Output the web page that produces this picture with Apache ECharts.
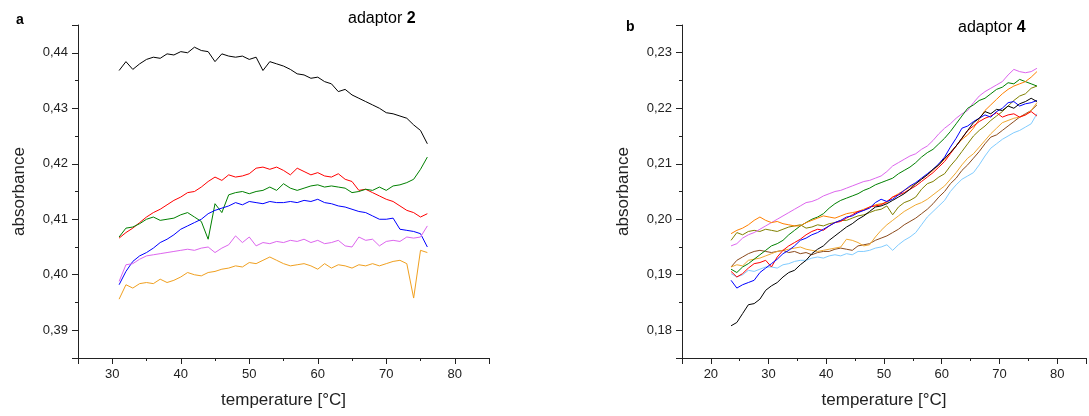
<!DOCTYPE html>
<html lang="en">
<head>
<meta charset="UTF-8" />
<title>adaptor absorbance</title>
<script src="https://cdn.jsdelivr.net/npm/echarts@6/dist/echarts.min.js"></script>
</head>
<body style="margin:0">
<div id="container" style="width:1089px;height:416px"></div>
<script>
// panel a: temperature grid and absorbance traces (adaptor 2)
var tempA = [31,32,33,34,35,36,37,38,39,40,41,42,43,44,45,46,47,48,49,50,51,52,53,54,55,56,57,58,59,60,61,62,63,64,65,66,67,68,69,70,71,72,73,74,75,76]
var a2Black = [0.4368,0.4384,0.4370,0.4380,0.4388,0.4392,0.4390,0.4398,0.4396,0.4402,0.4400,0.4410,0.4404,0.4402,0.4384,0.4398,0.4394,0.4392,0.4394,0.4388,0.4392,0.4368,0.4384,0.4380,0.4376,0.4370,0.4362,0.4360,0.4354,0.4356,0.4348,0.4344,0.4330,0.4334,0.4324,0.4318,0.4312,0.4306,0.4300,0.4292,0.4290,0.4286,0.4282,0.4270,0.4260,0.4236]
var a2Red = [0.4066,0.4076,0.4084,0.4094,0.4104,0.4112,0.4118,0.4126,0.4134,0.4140,0.4148,0.4150,0.4158,0.4168,0.4176,0.4170,0.4180,0.4176,0.4178,0.4182,0.4192,0.4194,0.4190,0.4194,0.4188,0.4180,0.4192,0.4186,0.4180,0.4184,0.4178,0.4176,0.4182,0.4172,0.4168,0.4152,0.4154,0.4148,0.4142,0.4136,0.4132,0.4124,0.4116,0.4112,0.4104,0.4110]
var a2Green = [0.4068,0.4084,0.4086,0.4092,0.4100,0.4104,0.4098,0.4100,0.4102,0.4108,0.4112,0.4104,0.4096,0.4064,0.4128,0.4112,0.4144,0.4148,0.4150,0.4146,0.4150,0.4152,0.4158,0.4152,0.4164,0.4156,0.4152,0.4156,0.4160,0.4162,0.4158,0.4160,0.4158,0.4156,0.4148,0.4150,0.4154,0.4152,0.4158,0.4152,0.4160,0.4162,0.4166,0.4172,0.4190,0.4212]
var a2Blue = [0.3982,0.4006,0.4024,0.4034,0.4040,0.4048,0.4058,0.4064,0.4072,0.4082,0.4088,0.4094,0.4100,0.4110,0.4116,0.4120,0.4124,0.4130,0.4126,0.4132,0.4130,0.4128,0.4132,0.4130,0.4130,0.4132,0.4130,0.4134,0.4132,0.4136,0.4130,0.4128,0.4124,0.4122,0.4118,0.4114,0.4112,0.4106,0.4100,0.4100,0.4102,0.4082,0.4080,0.4078,0.4074,0.4050]
var a2Violet = [0.3988,0.4018,0.4020,0.4028,0.4034,0.4036,0.4038,0.4040,0.4042,0.4044,0.4046,0.4044,0.4048,0.4050,0.4040,0.4048,0.4054,0.4070,0.4058,0.4068,0.4052,0.4058,0.4056,0.4060,0.4058,0.4062,0.4060,0.4064,0.4058,0.4062,0.4056,0.4058,0.4062,0.4052,0.4050,0.4068,0.4062,0.4064,0.4052,0.4060,0.4062,0.4060,0.4068,0.4066,0.4068,0.4088]
var a2Orange = [0.3956,0.3982,0.3976,0.3984,0.3986,0.3984,0.3992,0.3986,0.3990,0.3996,0.4004,0.4000,0.3998,0.4004,0.4006,0.4010,0.4012,0.4016,0.4014,0.4022,0.4020,0.4026,0.4032,0.4026,0.4020,0.4016,0.4018,0.4020,0.4016,0.4010,0.4020,0.4012,0.4018,0.4016,0.4012,0.4018,0.4016,0.4020,0.4016,0.4020,0.4024,0.4026,0.4020,0.3958,0.4044,0.4040]

// panel b: adaptor 4
var tempB = [23.5,24.5,25.5,26.5,27.5,28.5,29.5,30.5,31.5,32.5,33.5,34.5,35.5,36.5,37.5,38.5,39.5,40.5,41.5,42.5,43.5,44.5,45.5,46.5,47.5,48.5,49.5,50.5,51.5,52.5,53.5,54.5,55.5,56.5,57.5,58.5,59.5,60.5,61.5,62.5,63.5,64.5,65.5,66.5,67.5,68.5,69.5,70.5,71.5,72.5,73.5,74.5,75.5,76.5]
var a4Black = [0.1808,0.1814,0.1830,0.1846,0.1848,0.1856,0.1872,0.1880,0.1886,0.1896,0.1904,0.1908,0.1918,0.1926,0.1938,0.1946,0.1952,0.1962,0.1970,0.1978,0.1986,0.1992,0.2000,0.2006,0.2014,0.2022,0.2024,0.2028,0.2034,0.2040,0.2046,0.2054,0.2064,0.2072,0.2080,0.2090,0.2098,0.2110,0.2120,0.2132,0.2146,0.2160,0.2174,0.2182,0.2194,0.2190,0.2198,0.2196,0.2204,0.2200,0.2208,0.2212,0.2218,0.2212]
var a4Blue = [0.1890,0.1876,0.1882,0.1886,0.1890,0.1904,0.1912,0.1920,0.1928,0.1938,0.1944,0.1952,0.1962,0.1966,0.1972,0.1976,0.1982,0.1988,0.1994,0.1998,0.2004,0.2006,0.2012,0.2016,0.2020,0.2030,0.2036,0.2032,0.2036,0.2044,0.2052,0.2060,0.2066,0.2074,0.2082,0.2090,0.2100,0.2112,0.2130,0.2146,0.2164,0.2168,0.2176,0.2182,0.2188,0.2184,0.2194,0.2200,0.2210,0.2212,0.2204,0.2208,0.2210,0.2214]
var a4Red = [0.1906,0.1896,0.1902,0.1912,0.1920,0.1922,0.1926,0.1914,0.1932,0.1944,0.1952,0.1958,0.1964,0.1972,0.1978,0.1982,0.1980,0.1988,0.1994,0.1996,0.2002,0.2008,0.2014,0.2016,0.2022,0.2024,0.2026,0.2032,0.2040,0.2044,0.2048,0.2054,0.2060,0.2068,0.2076,0.2084,0.2094,0.2104,0.2118,0.2132,0.2146,0.2160,0.2168,0.2176,0.2182,0.2186,0.2192,0.2184,0.2188,0.2190,0.2184,0.2188,0.2194,0.2186]
var a4Green = [0.1910,0.1904,0.1914,0.1920,0.1928,0.1936,0.1944,0.1952,0.1956,0.1962,0.1972,0.1980,0.1988,0.1994,0.2000,0.2004,0.2010,0.2020,0.2028,0.2034,0.2038,0.2042,0.2046,0.2052,0.2056,0.2062,0.2066,0.2070,0.2074,0.2082,0.2088,0.2094,0.2102,0.2112,0.2120,0.2126,0.2136,0.2146,0.2158,0.2172,0.2186,0.2200,0.2206,0.2214,0.2218,0.2226,0.2234,0.2238,0.2246,0.2244,0.2252,0.2248,0.2244,0.2240]
var a4Violet = [0.1952,0.1956,0.1966,0.1972,0.1976,0.1982,0.1988,0.1994,0.2000,0.2006,0.2012,0.2018,0.2024,0.2030,0.2032,0.2036,0.2042,0.2046,0.2050,0.2052,0.2056,0.2060,0.2064,0.2068,0.2070,0.2074,0.2078,0.2086,0.2096,0.2102,0.2108,0.2114,0.2118,0.2126,0.2132,0.2142,0.2154,0.2164,0.2172,0.2182,0.2190,0.2196,0.2210,0.2222,0.2230,0.2236,0.2242,0.2248,0.2260,0.2270,0.2266,0.2264,0.2266,0.2272]
var a4Orange = [0.1974,0.1980,0.1984,0.1990,0.1998,0.2004,0.1998,0.1994,0.1996,0.1992,0.1990,0.1988,0.1988,0.1994,0.1998,0.2002,0.2006,0.2004,0.2002,0.2006,0.2010,0.2012,0.2014,0.2018,0.2022,0.2026,0.2028,0.2030,0.2040,0.2046,0.2052,0.2058,0.2064,0.2072,0.2080,0.2088,0.2098,0.2108,0.2120,0.2132,0.2144,0.2152,0.2164,0.2180,0.2196,0.2206,0.2216,0.2226,0.2234,0.2240,0.2244,0.2248,0.2256,0.2266]
var a4Olive = [0.1962,0.1976,0.1972,0.1978,0.1980,0.1978,0.1982,0.1980,0.1978,0.1982,0.1986,0.1988,0.1990,0.1984,0.1986,0.1990,0.1988,0.1992,0.1994,0.1998,0.1998,0.2002,0.2006,0.2008,0.2012,0.2016,0.2018,0.2024,0.2008,0.2022,0.2030,0.2034,0.2040,0.2054,0.2064,0.2068,0.2076,0.2082,0.2096,0.2108,0.2122,0.2136,0.2150,0.2160,0.2168,0.2178,0.2186,0.2194,0.2204,0.2214,0.2222,0.2226,0.2236,0.2240]
var a4Gold = [0.1914,0.1918,0.1916,0.1926,0.1928,0.1930,0.1934,0.1938,0.1942,0.1944,0.1946,0.1948,0.1950,0.1946,0.1944,0.1942,0.1944,0.1946,0.1948,0.1950,0.1964,0.1962,0.1958,0.1952,0.1954,0.1968,0.1980,0.1990,0.1998,0.2006,0.2014,0.2020,0.2026,0.2030,0.2036,0.2044,0.2052,0.2060,0.2072,0.2084,0.2098,0.2110,0.2118,0.2130,0.2142,0.2154,0.2164,0.2174,0.2178,0.2182,0.2184,0.2188,0.2196,0.2210]
var a4Brown = [0.1914,0.1926,0.1932,0.1938,0.1942,0.1944,0.1942,0.1940,0.1942,0.1944,0.1940,0.1942,0.1938,0.1940,0.1936,0.1940,0.1942,0.1942,0.1946,0.1948,0.1946,0.1944,0.1952,0.1954,0.1956,0.1962,0.1966,0.1970,0.1976,0.1982,0.1990,0.1996,0.2002,0.2010,0.2018,0.2028,0.2040,0.2050,0.2064,0.2074,0.2088,0.2098,0.2110,0.2122,0.2136,0.2148,0.2152,0.2160,0.2168,0.2176,0.2184,0.2190,0.2196,0.2206]
var a4LightBlue = [0.1902,0.1896,0.1900,0.1908,0.1906,0.1910,0.1914,0.1914,0.1912,0.1918,0.1920,0.1924,0.1926,0.1926,0.1930,0.1932,0.1930,0.1934,0.1936,0.1934,0.1938,0.1936,0.1942,0.1942,0.1944,0.1948,0.1950,0.1954,0.1944,0.1954,0.1962,0.1968,0.1976,0.1990,0.2004,0.2014,0.2024,0.2034,0.2050,0.2062,0.2072,0.2078,0.2084,0.2098,0.2114,0.2128,0.2136,0.2144,0.2150,0.2156,0.2160,0.2166,0.2172,0.2190]

var font = 'Liberation Sans, Arial, sans-serif'
var ink = '#222'

function zip(xs, ys) {
  return ys.map(function (y, i) { return [xs[i], y] })
}
function decimalComma(v) {
  // only label the whole hundredths, as 0,41
  if (Math.abs(v * 100 - Math.round(v * 100)) > 1e-6) return ''
  return v.toFixed(2).replace('.', ',')
}
function tens(v) {
  return Math.abs(v % 10) < 1e-6 ? String(v) : ''
}

// each panel gets two x and two y axes on top of each other:
// one with the minor ticks every half step, one with the long major ticks and labels
function xAxes(grid) {
  return [
    { type: 'value', gridIndex: grid, min: grid ? 15 : 25, max: 85, interval: 5,
      axisLine: { lineStyle: { color: ink, width: 1 } },
      axisTick: { length: 3, lineStyle: { color: ink } },
      axisLabel: { show: false }, splitLine: { show: false } },
    { type: 'value', gridIndex: grid, min: grid ? 15 : 25, max: 85, splitNumber: grid ? 7 : 6, position: 'bottom',
      axisLine: { show: false },
      axisTick: { length: 6, lineStyle: { color: ink } },
      axisLabel: { color: ink, fontSize: 13, fontFamily: font, margin: 10, formatter: tens },
      splitLine: { show: false },
      name: 'temperature [°C]', nameLocation: 'middle', nameGap: 34,
      nameTextStyle: { color: ink, fontSize: 17, fontFamily: font } }
  ]
}
function yAxes(grid, lo, hi) {
  return [
    { type: 'value', gridIndex: grid, min: lo, max: hi, interval: 0.005, position: 'left',
      axisLine: { show: true, lineStyle: { color: ink, width: 1 } },
      axisTick: { show: true, length: 3, lineStyle: { color: ink } },
      axisLabel: { show: false }, splitLine: { show: false } },
    { type: 'value', gridIndex: grid, min: lo, max: hi, splitNumber: 6, position: 'left',
      axisLine: { show: false },
      axisTick: { show: true, length: 6, lineStyle: { color: ink } },
      axisLabel: { color: ink, fontSize: 13, fontFamily: font, margin: 10, formatter: decimalComma },
      splitLine: { show: false },
      name: 'absorbance', nameLocation: 'middle', nameGap: 50,
      nameTextStyle: { color: ink, fontSize: 17, fontFamily: font } }
  ]
}

function trace(xs, ys, color, grid) {
  return {
    type: 'line', xAxisIndex: grid * 2, yAxisIndex: grid * 2,
    data: zip(xs, ys), showSymbol: false, symbol: 'none',
    lineStyle: { color: color, width: 1 }, silent: true
  }
}

function panelTitle(word, num, left, top) {
  return {
    text: '{n|' + word + ' }{b|' + num + '}', left: left, top: top,
    textStyle: { fontWeight: 'normal', rich: {
      n: { fontSize: 16, color: '#000', fontFamily: font, fontWeight: 'normal' },
      b: { fontSize: 16, color: '#000', fontFamily: font, fontWeight: 'bold' } } }
  }
}

var myChart = echarts.init(document.querySelector('#container'))
myChart.setOption({
  animation: false,
  backgroundColor: '#fff',
  title: [
    { text: 'a', left: 11, top: 8, textStyle: { fontSize: 14, fontWeight: 'bold', color: '#000', fontFamily: font } },
    panelTitle('adaptor', '2', 343, 6),
    { text: 'b', left: 621, top: 15, textStyle: { fontSize: 14, fontWeight: 'bold', color: '#000', fontFamily: font } },
    panelTitle('adaptor', '4', 953, 15)
  ],
  grid: [
    { left: 78, right: 600, top: 25, bottom: 58 },
    { left: 682, right: 1, top: 25, bottom: 58 }
  ],
  xAxis: xAxes(0).concat(xAxes(1)),
  yAxis: yAxes(0, 0.385, 0.445).concat(yAxes(1, 0.175, 0.235)),
  series: [
    trace(tempA, a2Black, '#000000', 0),
    trace(tempA, a2Red, '#ff0000', 0),
    trace(tempA, a2Green, '#008000', 0),
    trace(tempA, a2Blue, '#0000ff', 0),
    trace(tempA, a2Violet, '#dd66ee', 0),
    trace(tempA, a2Orange, '#f0a020', 0),
    trace(tempB, a4LightBlue, '#80ccff', 1),
    trace(tempB, a4Brown, '#8b4a1c', 1),
    trace(tempB, a4Gold, '#f0a830', 1),
    trace(tempB, a4Olive, '#808000', 1),
    trace(tempB, a4Violet, '#dd66ee', 1),
    trace(tempB, a4Green, '#008000', 1),
    trace(tempB, a4Orange, '#ff8000', 1),
    trace(tempB, a4Red, '#ff0000', 1),
    trace(tempB, a4Blue, '#0000ff', 1),
    trace(tempB, a4Black, '#000000', 1)
  ]
})
</script>
</body>
</html>
